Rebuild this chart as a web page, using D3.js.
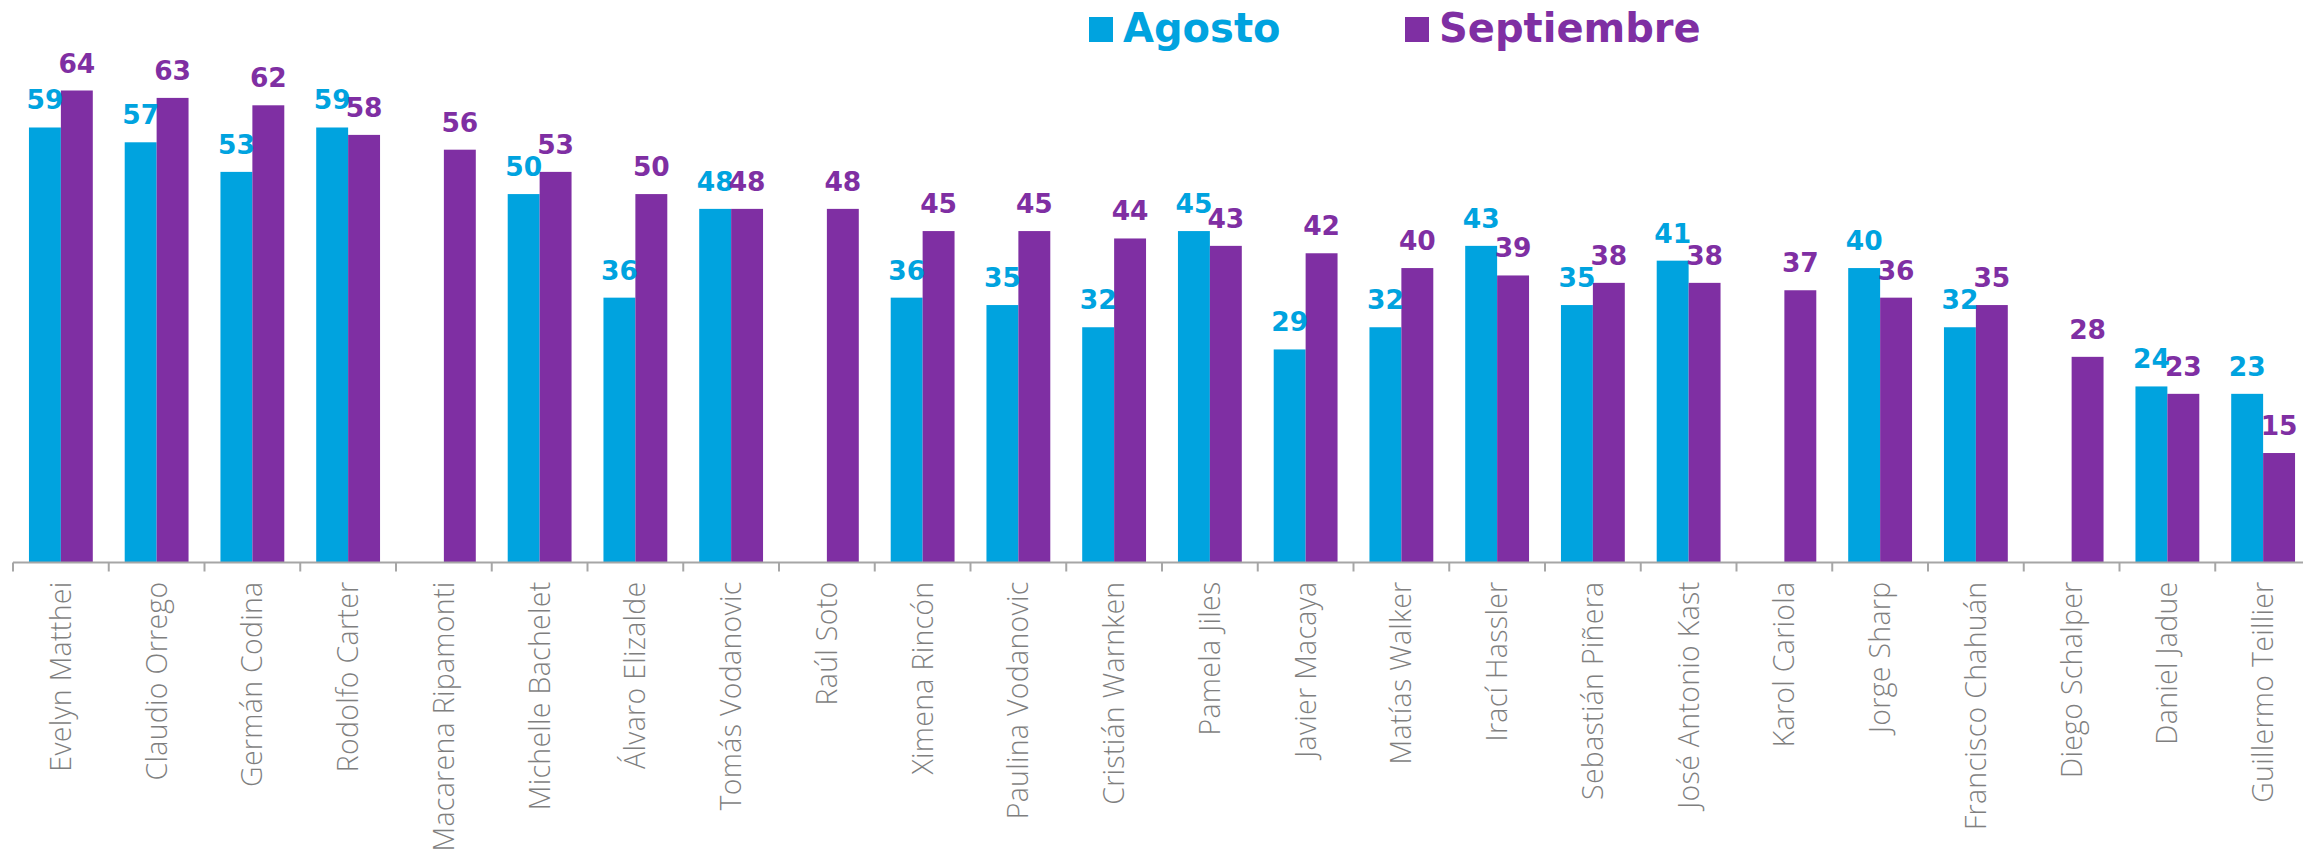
<!DOCTYPE html>
<html>
<head>
<meta charset="utf-8">
<script src="https://cdn.jsdelivr.net/npm/d3@7"></script>
<style>
  html, body { margin: 0; padding: 0; background: #fff; overflow: hidden; }
  svg { display: block; }
</style>
</head>
<body>
<svg id="svg"></svg>
<script>
const candidates = [
  'Evelyn Matthei', 'Claudio Orrego', 'Germán Codina', 'Rodolfo Carter',
  'Macarena Ripamonti', 'Michelle Bachelet', 'Álvaro Elizalde', 'Tomás Vodanovic',
  'Raúl Soto', 'Ximena Rincón', 'Paulina Vodanovic', 'Cristián Warnken',
  'Pamela Jiles', 'Javier Macaya', 'Matías Walker', 'Irací Hassler',
  'Sebastián Piñera', 'José Antonio Kast', 'Karol Cariola', 'Jorge Sharp',
  'Francisco Chahuán', 'Diego Schalper', 'Daniel Jadue', 'Guillermo Teillier'
];
const agosto = [59, 57, 53, 59, null, 50, 36, 48, null, 36, 35, 32, 45, 29, 32, 43, 35, 41, null, 40, 32, null, 24, 23];
const septiembre = [64, 63, 62, 58, 56, 53, 50, 48, 48, 45, 45, 44, 43, 42, 40, 39, 38, 38, 37, 36, 35, 28, 23, 15];
const seriesNames = ['Agosto', 'Septiembre'];
const colors = ['#00a3df', '#7f2fa3'];

const width = 2303, height = 860;
const axisY = 562.5;

const svg = d3.select('#svg').attr('width', width).attr('height', height);

const x = d3.scaleBand().domain(candidates).range([13, 2311]).padding(0);
const sub = d3.scaleBand().domain(seriesNames).range([0, x.bandwidth()]).paddingOuter(0.5);
const y = d3.scaleLinear().domain([0, 64]).range([564, 90.5]);

const rows = candidates.map((c, i) => ({ name: c, values: [agosto[i], septiembre[i]] }));

// bars
const groups = svg.append('g').selectAll('g')
  .data(rows)
  .join('g')
  .attr('transform', d => `translate(${x(d.name)},0)`);

groups.selectAll('rect')
  .data(d => d.values.map((v, k) => ({ key: seriesNames[k], v, k })).filter(e => e.v != null))
  .join('rect')
  .attr('x', e => sub(e.key))
  .attr('width', sub.bandwidth())
  .attr('y', e => y(e.v))
  .attr('height', e => axisY - y(e.v))
  .attr('fill', e => colors[e.k]);

groups.selectAll('text')
  .data(d => d.values.map((v, k) => ({ key: seriesNames[k], v, k })).filter(e => e.v != null))
  .join('text')
  .attr('x', e => sub(e.key) + sub.bandwidth() / 2)
  .attr('y', e => y(e.v) - 18)
  .attr('text-anchor', 'middle')
  .attr('font-family', 'DejaVu Sans')
  .attr('font-weight', 'bold')
  .attr('font-size', 26.5)
  .attr('fill', e => colors[e.k])
  .text(e => e.v);

// x axis
const xAxis = d3.axisBottom(x).tickSize(0).tickPadding(0);
const gx = svg.append('g')
  .attr('transform', `translate(0,${axisY})`)
  .call(xAxis);
gx.select('.domain').attr('stroke', '#a6a6a6').attr('stroke-width', 2)
  .attr('d', `M${x.range()[0]},0H${x.range()[1]}`);
gx.selectAll('.tick text')
  .attr('transform', 'rotate(-90)')
  .attr('text-anchor', 'end')
  .attr('x', -19)
  .attr('y', 0)
  .attr('dy', '0.35em')
  .attr('font-family', 'Open Sans')
  .attr('font-weight', 300)
  .attr('font-size', 28.5)
  .attr('letter-spacing', 0.3)
  .attr('fill', '#7f7f7f');

gx.append('g').selectAll('line')
  .data(candidates)
  .join('line')
  .attr('x1', d => x(d)).attr('x2', d => x(d))
  .attr('y1', 0).attr('y2', 9)
  .attr('stroke', '#a6a6a6')
  .attr('stroke-width', 2);

// legend
const legendX = [1089, 1405];
const legend = svg.append('g').selectAll('g')
  .data(seriesNames)
  .join('g')
  .attr('transform', (d, i) => `translate(${legendX[i]},0)`);
legend.append('rect')
  .attr('x', 0).attr('y', 17)
  .attr('width', 24).attr('height', 25)
  .attr('fill', (d, i) => colors[i]);
legend.append('text')
  .attr('x', 34).attr('y', 42)
  .attr('font-family', 'DejaVu Sans')
  .attr('font-weight', 'bold')
  .attr('font-size', 40)
  .attr('fill', (d, i) => colors[i])
  .text(d => d);
</script>
</body>
</html>
